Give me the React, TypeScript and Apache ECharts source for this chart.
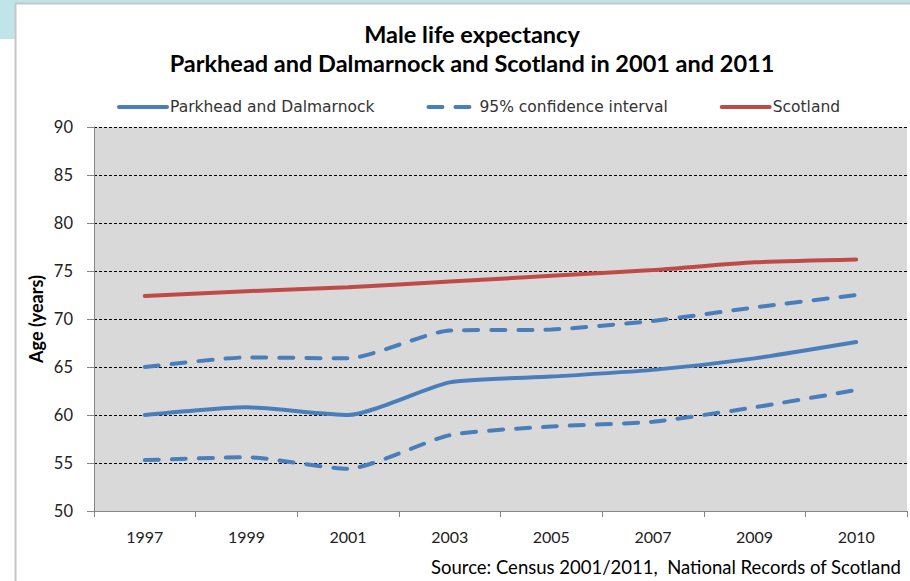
import React, { useEffect, useRef } from "react";
import * as echarts from "echarts";

const years = ["1997", "1999", "2001", "2003", "2005", "2007", "2009", "2010"];
const parkhead = [60.0, 60.8, 60.0, 63.4, 64.0, 64.7, 65.9, 67.6];
const upperCI = [65.0, 66.0, 65.9, 68.8, 68.9, 69.8, 71.2, 72.5];
const lowerCI = [55.3, 55.6, 54.4, 57.9, 58.8, 59.3, 60.8, 62.6];
const scotland = [72.4, 72.9, 73.3, 73.9, 74.5, 75.1, 75.9, 76.2];

const titleLines = ["Male life expectancy", "Parkhead and Dalmarnock and Scotland in 2001 and 2011"];
const yAxisName = "Age (years)";
const sourceText = "Source: Census 2001/2011,  National Records of Scotland";
const seriesNames = ["Parkhead and Dalmarnock", "95% confidence interval", "Scotland"];

const BLUE = "#4a7ebb";
const RED = "#be4b48";
const CAL = "Lato, 'Open Sans', sans-serif";

export default function App() {
  const ref = useRef<HTMLDivElement>(null);
  useEffect(() => {
    if (!ref.current) return;
    const chart = echarts.init(ref.current, null, { renderer: "svg" });
    const lineBase = { type: "line", symbol: "none", smooth: 0.2, z: 3 };
    chart.setOption({
      animation: false,
      backgroundColor: "#ffffff",
      title: {
        text: titleLines.join("\n"),
        left: 467,
        textAlign: "center",
        top: 14,
        textStyle: { fontFamily: CAL, fontSize: 23.5, fontWeight: "bold", color: "#000", lineHeight: 29 },
      },
      legend: {
        data: seriesNames,
        left: 117,
        top: 99,
        padding: 0,
        itemWidth: 48,
        itemHeight: 14,
        itemGap: 52,
        itemStyle: { color: "rgba(0,0,0,0)", borderWidth: 0, opacity: 0 },
        lineStyle: { width: 4 },
        textStyle: { fontFamily: "'DejaVu Sans', sans-serif", fontSize: 15.5, color: "#333", padding: [0, 0, 0, -2] },
      },
      grid: { left: 94, right: 3, top: 127, bottom: 70 },
      xAxis: {
        type: "category",
        data: years,
        boundaryGap: true,
        axisLine: { lineStyle: { color: "#868686", width: 1 } },
        axisTick: { show: true, length: 6, lineStyle: { color: "#868686" } },
        axisLabel: { fontFamily: CAL, fontSize: 16, color: "#222", margin: 17 },
      },
      yAxis: {
        type: "value",
        min: 50,
        max: 90,
        interval: 5,
        axisLine: { show: true, lineStyle: { color: "#868686", width: 1 } },
        axisTick: { show: true, length: 7, lineStyle: { color: "#868686" } },
        axisLabel: { fontFamily: CAL, fontSize: 16.5, color: "#222", margin: 21 },
        splitLine: { show: true, lineStyle: { color: "#000", width: 1, type: [3, 2] } },
        splitArea: { show: false },
      },
      graphic: [
        { type: "rect", z: -10, shape: { x: 0, y: 0, width: 910, height: 3 }, style: { fill: "#c0e5e8" } },
        { type: "rect", z: -10, shape: { x: 0, y: 0, width: 15, height: 39 }, style: { fill: "#c0e5e8" } },
        { type: "rect", z: -9, shape: { x: 15.5, y: 3.5, width: 920, height: 600 }, style: { fill: "#fff", stroke: "#c6c6c6", lineWidth: 2 } },
        { type: "rect", z: -5, shape: { x: 94, y: 127, width: 813, height: 384 }, style: { fill: "#d9d9d9" } },
        {
          type: "text",
          x: 36,
          y: 319,
          rotation: Math.PI / 2,
          style: { text: yAxisName, fontFamily: CAL, fontSize: 18, fontWeight: "bold", fill: "#000", align: "center", verticalAlign: "middle" },
        },
        {
          type: "text",
          left: 431,
          top: 557,
          style: { text: sourceText, fontFamily: CAL, fontSize: 18.5, fill: "#000" },
        },
      ],
      series: [
        { ...lineBase, name: seriesNames[0], data: parkhead, lineStyle: { color: BLUE, width: 4, cap: "round" }, itemStyle: { color: BLUE } },
        { ...lineBase, name: seriesNames[1], data: upperCI, lineStyle: { color: BLUE, width: 4, type: [14, 13], cap: "round" }, itemStyle: { color: BLUE } },
        { ...lineBase, name: seriesNames[1], data: lowerCI, lineStyle: { color: BLUE, width: 4, type: [14, 13], cap: "round" }, itemStyle: { color: BLUE } },
        { ...lineBase, name: seriesNames[2], data: scotland, lineStyle: { color: RED, width: 4, cap: "round" }, itemStyle: { color: RED } },
      ],
    });
    return () => chart.dispose();
  }, []);
  return <div ref={ref} style={{ position: "absolute", left: 0, top: 0, width: 910, height: 581 }} />;
}
